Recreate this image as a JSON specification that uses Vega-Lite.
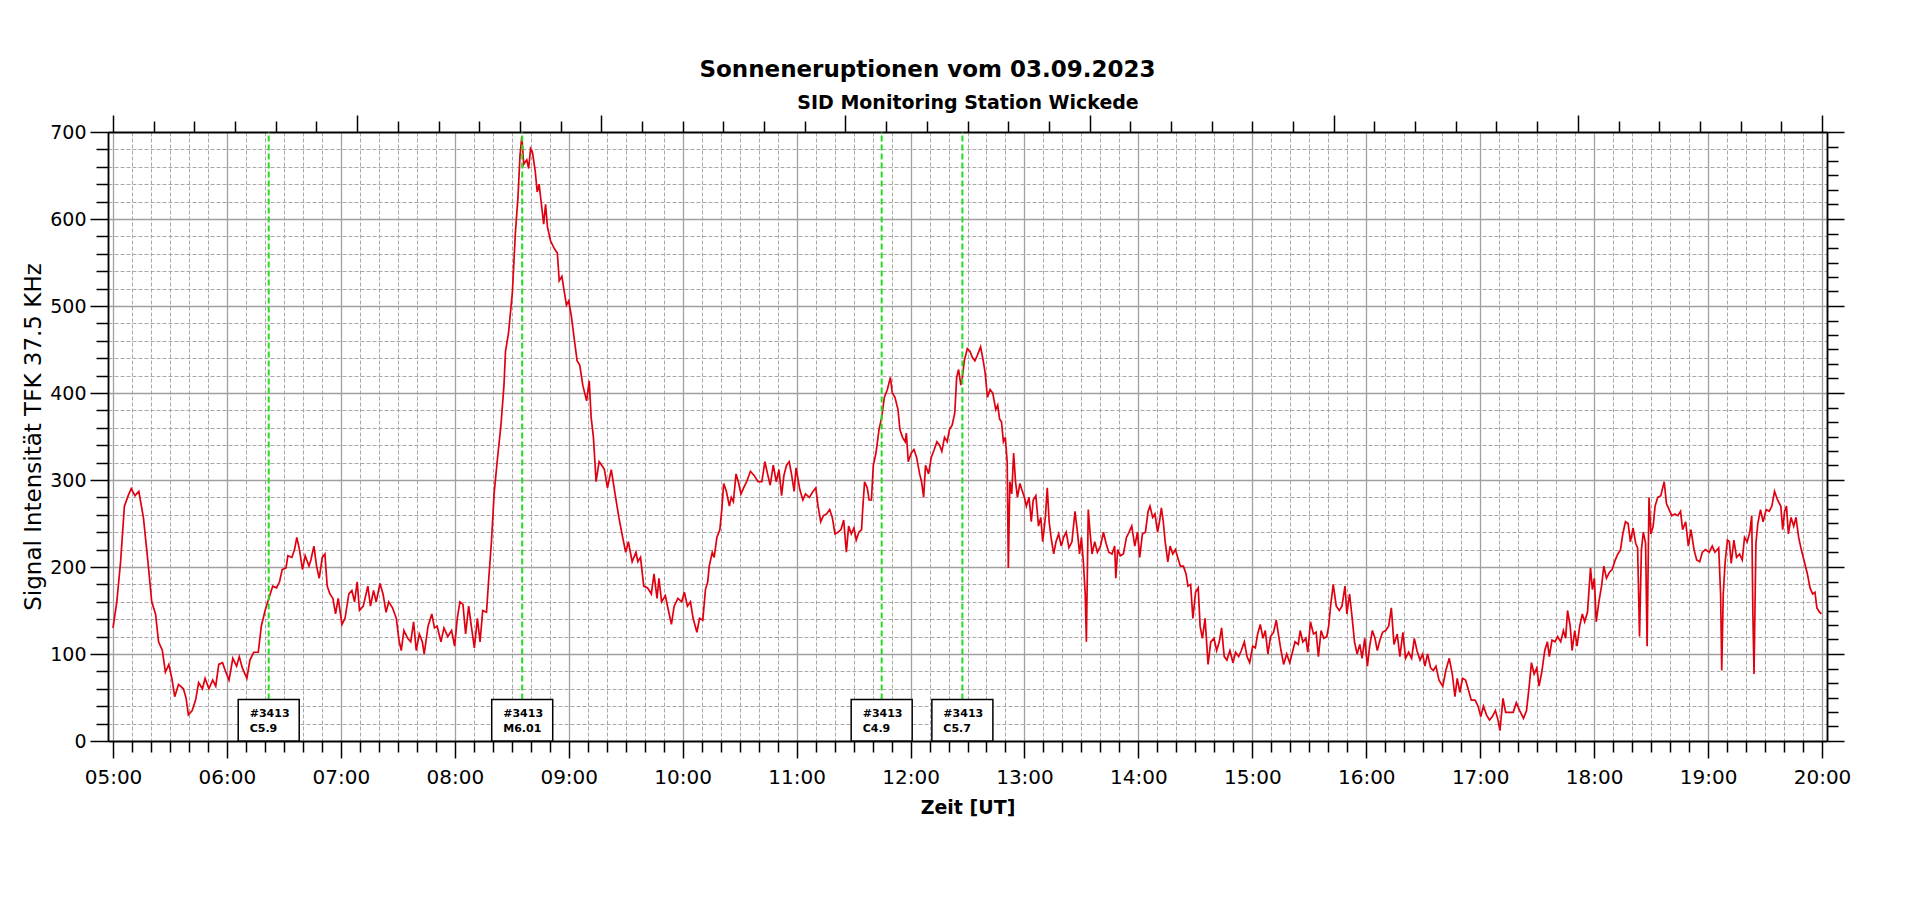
{
  "$schema": "https://vega.github.io/schema/vega-lite/v6.json",
  "width": 1719,
  "height": 609,
  "autosize": {"type": "none"},
  "padding": {"left": 108, "top": 132, "right": 93, "bottom": 163},
  "background": "#ffffff",
  "title": {"text": "Sonneneruptionen vom 03.09.2023", "font": "DejaVu Sans", "fontSize": 23, "fontWeight": "bold", "color": "#000000", "anchor": "middle", "dx": -40, "offset": 11},
  "config": {
    "view": {"stroke": null},
    "axis": {"labelFont": "DejaVu Sans", "titleFont": "DejaVu Sans", "labelColor": "#000000", "titleColor": "#000000", "domainColor": "#000000", "tickColor": "#000000", "tickWidth": 1.5, "domainWidth": 1.5, "labelFlush": false, "labelOverlap": false}
  },
  "datasets": {
    "signal": [
{"zeit":300,"signal":130},{"zeit":302,"signal":160},{"zeit":304,"signal":206},{"zeit":306,"signal":270},{"zeit":308,"signal":282},{"zeit":309.6,"signal":290},{"zeit":311.6,"signal":282},{"zeit":313.6,"signal":287},{"zeit":316,"signal":257},{"zeit":318.4,"signal":206},{"zeit":320.4,"signal":160},{"zeit":322.4,"signal":146},{"zeit":324,"signal":114},{"zeit":326,"signal":104},{"zeit":327.6,"signal":79},{"zeit":329.4,"signal":88},{"zeit":331,"signal":72},{"zeit":332.5,"signal":51},{"zeit":334.5,"signal":65},{"zeit":337.1,"signal":60},{"zeit":338.5,"signal":49},{"zeit":339.7,"signal":30},{"zeit":341.7,"signal":35},{"zeit":343.5,"signal":47},{"zeit":345.1,"signal":67},{"zeit":347.1,"signal":60},{"zeit":348.5,"signal":72},{"zeit":350.5,"signal":60},{"zeit":352.5,"signal":70},{"zeit":354.1,"signal":63},{"zeit":355.7,"signal":88},{"zeit":357.7,"signal":90},{"zeit":359.1,"signal":81},{"zeit":361.1,"signal":70},{"zeit":363.1,"signal":95},{"zeit":365.1,"signal":86},{"zeit":366.5,"signal":97},{"zeit":368.1,"signal":84},{"zeit":370.5,"signal":72},{"zeit":372.1,"signal":93},{"zeit":374.1,"signal":102},{"zeit":376.5,"signal":102},{"zeit":378.1,"signal":132},{"zeit":380.1,"signal":150},{"zeit":382.1,"signal":164},{"zeit":384.1,"signal":178},{"zeit":386.1,"signal":176},{"zeit":387.7,"signal":183},{"zeit":389.1,"signal":197},{"zeit":391.1,"signal":199},{"zeit":392.1,"signal":213},{"zeit":394.2,"signal":211},{"zeit":395.6,"signal":220},{"zeit":396.8,"signal":234},{"zeit":398.2,"signal":220},{"zeit":399.8,"signal":197},{"zeit":401.2,"signal":213},{"zeit":403.2,"signal":201},{"zeit":404.2,"signal":208},{"zeit":405.8,"signal":224},{"zeit":407.2,"signal":201},{"zeit":408.6,"signal":187},{"zeit":410.2,"signal":211},{"zeit":411.6,"signal":215},{"zeit":412.8,"signal":178},{"zeit":414.2,"signal":169},{"zeit":415.8,"signal":164},{"zeit":417.2,"signal":146},{"zeit":418.6,"signal":164},{"zeit":420.6,"signal":134},{"zeit":422.2,"signal":141},{"zeit":424.2,"signal":169},{"zeit":425.8,"signal":173},{"zeit":427.2,"signal":160},{"zeit":428.6,"signal":183},{"zeit":429.8,"signal":150},{"zeit":431.8,"signal":155},{"zeit":434.2,"signal":178},{"zeit":435.6,"signal":155},{"zeit":437.2,"signal":173},{"zeit":438.6,"signal":160},{"zeit":440.6,"signal":181},{"zeit":442.2,"signal":169},{"zeit":443.8,"signal":148},{"zeit":445.2,"signal":160},{"zeit":447.2,"signal":153},{"zeit":449.2,"signal":141},{"zeit":450.6,"signal":116},{"zeit":451.8,"signal":104},{"zeit":453.2,"signal":127},{"zeit":455.2,"signal":118},{"zeit":456.8,"signal":114},{"zeit":458.3,"signal":137},{"zeit":459.7,"signal":104},{"zeit":461.3,"signal":123},{"zeit":462.9,"signal":114},{"zeit":463.9,"signal":100},{"zeit":465.9,"signal":132},{"zeit":467.9,"signal":146},{"zeit":469.3,"signal":130},{"zeit":470.7,"signal":132},{"zeit":472.7,"signal":114},{"zeit":474.3,"signal":130},{"zeit":476.3,"signal":120},{"zeit":478.3,"signal":127},{"zeit":479.9,"signal":109},{"zeit":481.3,"signal":141},{"zeit":482.7,"signal":160},{"zeit":484.3,"signal":157},{"zeit":485.7,"signal":123},{"zeit":487.3,"signal":155},{"zeit":488.7,"signal":132},{"zeit":490.3,"signal":107},{"zeit":491.9,"signal":141},{"zeit":493.3,"signal":114},{"zeit":494.7,"signal":150},{"zeit":496.7,"signal":148},{"zeit":497.9,"signal":187},{"zeit":499.3,"signal":229},{"zeit":500.7,"signal":284},{"zeit":502.3,"signal":321},{"zeit":504.3,"signal":363},{"zeit":505.9,"signal":409},{"zeit":506.7,"signal":448},{"zeit":508.3,"signal":469},{"zeit":510.3,"signal":515},{"zeit":511.9,"signal":584},{"zeit":513.3,"signal":626},{"zeit":514.3,"signal":672},{"zeit":515.3,"signal":695},{"zeit":516.3,"signal":663},{"zeit":517.9,"signal":668},{"zeit":518.9,"signal":658},{"zeit":519.9,"signal":681},{"zeit":520.9,"signal":677},{"zeit":522.4,"signal":654},{"zeit":523.4,"signal":631},{"zeit":524.4,"signal":640},{"zeit":525.4,"signal":621},{"zeit":526.8,"signal":594},{"zeit":527.8,"signal":617},{"zeit":528.8,"signal":591},{"zeit":530.4,"signal":575},{"zeit":532.4,"signal":566},{"zeit":534,"signal":561},{"zeit":535,"signal":529},{"zeit":536.4,"signal":534},{"zeit":537.4,"signal":520},{"zeit":538.8,"signal":501},{"zeit":540,"signal":506},{"zeit":541.4,"signal":488},{"zeit":542.8,"signal":464},{"zeit":544.4,"signal":437},{"zeit":545.8,"signal":432},{"zeit":547.4,"signal":409},{"zeit":549.4,"signal":391},{"zeit":550.8,"signal":414},{"zeit":551.8,"signal":372},{"zeit":553,"signal":349},{"zeit":554.4,"signal":298},{"zeit":556,"signal":321},{"zeit":557.4,"signal":317},{"zeit":558.8,"signal":312},{"zeit":560.4,"signal":291},{"zeit":562.4,"signal":312},{"zeit":564.4,"signal":284},{"zeit":566.4,"signal":257},{"zeit":568.4,"signal":234},{"zeit":570,"signal":217},{"zeit":571.4,"signal":229},{"zeit":573.4,"signal":206},{"zeit":575.4,"signal":217},{"zeit":576.4,"signal":206},{"zeit":577.8,"signal":211},{"zeit":579.5,"signal":178},{"zeit":581.5,"signal":176},{"zeit":583.5,"signal":169},{"zeit":584.9,"signal":192},{"zeit":586.5,"signal":164},{"zeit":587.5,"signal":187},{"zeit":588.9,"signal":160},{"zeit":590.9,"signal":167},{"zeit":592.5,"signal":150},{"zeit":594.1,"signal":134},{"zeit":595.5,"signal":155},{"zeit":597.5,"signal":164},{"zeit":599.5,"signal":160},{"zeit":600.9,"signal":171},{"zeit":602.5,"signal":155},{"zeit":604.1,"signal":160},{"zeit":605.5,"signal":141},{"zeit":607.5,"signal":125},{"zeit":608.9,"signal":141},
{"zeit":610.6,"signal":139},{"zeit":612,"signal":174},{"zeit":613.2,"signal":183},{"zeit":614,"signal":201},{"zeit":615.6,"signal":217},{"zeit":616.6,"signal":211},{"zeit":618,"signal":234},{"zeit":619.6,"signal":243},{"zeit":620.6,"signal":266},{"zeit":621.6,"signal":296},{"zeit":623,"signal":287},{"zeit":624.6,"signal":270},{"zeit":625.6,"signal":280},{"zeit":626.7,"signal":275},{"zeit":628.1,"signal":307},{"zeit":629.3,"signal":298},{"zeit":630.7,"signal":284},{"zeit":632.1,"signal":291},{"zeit":633.7,"signal":298},{"zeit":635.7,"signal":310},{"zeit":637.7,"signal":305},{"zeit":639.7,"signal":298},{"zeit":641.7,"signal":298},{"zeit":643.3,"signal":321},{"zeit":644.7,"signal":307},{"zeit":646.1,"signal":294},{"zeit":647.7,"signal":317},{"zeit":649.3,"signal":298},{"zeit":650.7,"signal":312},{"zeit":652.1,"signal":282},{"zeit":653.3,"signal":305},{"zeit":654.7,"signal":317},{"zeit":656.1,"signal":321},{"zeit":657.3,"signal":307},{"zeit":658.7,"signal":287},{"zeit":659.7,"signal":314},{"zeit":661.7,"signal":289},{"zeit":663.3,"signal":277},{"zeit":664.7,"signal":284},{"zeit":666.7,"signal":280},{"zeit":668.7,"signal":287},{"zeit":670.1,"signal":291},{"zeit":671.3,"signal":270},{"zeit":672.7,"signal":252},{"zeit":674.1,"signal":259},{"zeit":675.8,"signal":261},{"zeit":677.4,"signal":266},{"zeit":678.8,"signal":257},{"zeit":680.2,"signal":238},{"zeit":681.8,"signal":240},{"zeit":683.4,"signal":243},{"zeit":684.8,"signal":254},{"zeit":686.2,"signal":217},{"zeit":687.4,"signal":247},{"zeit":688.8,"signal":238},{"zeit":690.2,"signal":245},{"zeit":691.4,"signal":231},{"zeit":692.8,"signal":240},{"zeit":694.2,"signal":243},{"zeit":694.8,"signal":266},{"zeit":695.8,"signal":298},{"zeit":697.2,"signal":291},{"zeit":698.2,"signal":277},{"zeit":699.4,"signal":277},{"zeit":700.4,"signal":317},{"zeit":701.8,"signal":331},{"zeit":703.4,"signal":358},{"zeit":704.8,"signal":372},{"zeit":706.2,"signal":395},{"zeit":707.8,"signal":404},{"zeit":709.4,"signal":418},{"zeit":710.4,"signal":400},{"zeit":711.8,"signal":395},{"zeit":713.4,"signal":381},{"zeit":714.4,"signal":358},{"zeit":715.8,"signal":349},{"zeit":717.2,"signal":344},{"zeit":717.8,"signal":354},{"zeit":718.8,"signal":321},{"zeit":720.4,"signal":331},{"zeit":721.8,"signal":335},{"zeit":723.2,"signal":326},{"zeit":724.8,"signal":307},{"zeit":725.8,"signal":298},{"zeit":726.9,"signal":280},{"zeit":727.9,"signal":317},{"zeit":729.5,"signal":307},{"zeit":730.9,"signal":326},{"zeit":732.5,"signal":335},{"zeit":733.9,"signal":344},{"zeit":735.3,"signal":340},{"zeit":736.5,"signal":333},{"zeit":737.9,"signal":349},{"zeit":739.3,"signal":344},{"zeit":740.5,"signal":358},{"zeit":741.9,"signal":363},{"zeit":743.3,"signal":377},{"zeit":744.3,"signal":418},{"zeit":745.3,"signal":427},{"zeit":746.5,"signal":409},{"zeit":747.3,"signal":418},{"zeit":748.3,"signal":437},{"zeit":749.9,"signal":451},{"zeit":751.3,"signal":448},{"zeit":752.5,"signal":441},{"zeit":753.9,"signal":437},{"zeit":755.3,"signal":444},{"zeit":756.9,"signal":453},{"zeit":758.3,"signal":437},{"zeit":759.3,"signal":423},{"zeit":760.5,"signal":395},{"zeit":761.9,"signal":404},{"zeit":763.3,"signal":400},{"zeit":764.9,"signal":381},{"zeit":765.9,"signal":386},{"zeit":766.9,"signal":370},{"zeit":767.9,"signal":367},{"zeit":768.9,"signal":344},{"zeit":769.9,"signal":349},{"zeit":770.9,"signal":321},{"zeit":771.5,"signal":199},{"zeit":772.3,"signal":298},{"zeit":773.3,"signal":284},{"zeit":774.3,"signal":331},{"zeit":775.3,"signal":298},{"zeit":776.3,"signal":280},{"zeit":777.6,"signal":296},{"zeit":778.6,"signal":289},{"zeit":780,"signal":280},{"zeit":781,"signal":270},{"zeit":782.4,"signal":280},{"zeit":783.6,"signal":252},{"zeit":784.6,"signal":277},{"zeit":786,"signal":282},{"zeit":787.4,"signal":247},{"zeit":788.6,"signal":257},{"zeit":789.6,"signal":229},{"zeit":791,"signal":257},{"zeit":792,"signal":291},{"zeit":793,"signal":252},{"zeit":794,"signal":234},{"zeit":795.4,"signal":215},{"zeit":796.6,"signal":229},{"zeit":798,"signal":238},{"zeit":799.4,"signal":224},{"zeit":800.6,"signal":234},{"zeit":802,"signal":240},{"zeit":803.4,"signal":222},{"zeit":805,"signal":229},{"zeit":806.6,"signal":264},{"zeit":808,"signal":238},{"zeit":809,"signal":215},{"zeit":810,"signal":234},{"zeit":811,"signal":206},{"zeit":812,"signal":169},{"zeit":812.6,"signal":114},{"zeit":813.6,"signal":266},{"zeit":814.6,"signal":238},{"zeit":815.6,"signal":215},{"zeit":817,"signal":229},{"zeit":818.4,"signal":217},{"zeit":820,"signal":224},{"zeit":821.6,"signal":240},{"zeit":823,"signal":227},{"zeit":824.4,"signal":217},{"zeit":826.1,"signal":215},{"zeit":827.5,"signal":224},{"zeit":828.1,"signal":187},{"zeit":829.1,"signal":220},{"zeit":830.5,"signal":213},{"zeit":832.1,"signal":215},{"zeit":833.7,"signal":234},{"zeit":835.1,"signal":240},{"zeit":836.5,"signal":247},{"zeit":838.1,"signal":224},{"zeit":839.5,"signal":240},{"zeit":840.7,"signal":211},{"zeit":842.1,"signal":238},{"zeit":843.7,"signal":240},{"zeit":845.1,"signal":264},{"zeit":846.1,"signal":270},{"zeit":847.5,"signal":257},{"zeit":848.7,"signal":261},{"zeit":850.1,"signal":240},{"zeit":851.1,"signal":252},{"zeit":852.1,"signal":268},{"zeit":853.1,"signal":252},{"zeit":854.1,"signal":229},{"zeit":855.5,"signal":206},{"zeit":856.7,"signal":224},{"zeit":858.1,"signal":215},{"zeit":859.5,"signal":220},{"zeit":860.7,"signal":211},{"zeit":862.1,"signal":201},{"zeit":863.7,"signal":201},{"zeit":865.1,"signal":192},{"zeit":866.1,"signal":178},{"zeit":867.5,"signal":180},{"zeit":868.7,"signal":141},{"zeit":870.1,"signal":171},{"zeit":871.5,"signal":176},{"zeit":872.5,"signal":132},{"zeit":873.7,"signal":118},{"zeit":875.1,"signal":141},{"zeit":876.7,"signal":88},{"zeit":878.1,"signal":114},{"zeit":879.8,"signal":118},{"zeit":881.2,"signal":104},{"zeit":882.6,"signal":114},{"zeit":883.8,"signal":130},{"zeit":885.2,"signal":97},{"zeit":886.6,"signal":93},{"zeit":888.2,"signal":104},{"zeit":889.8,"signal":90},{"zeit":891.2,"signal":102},{"zeit":892.8,"signal":97},{"zeit":894.2,"signal":104},{"zeit":895.8,"signal":114},{"zeit":897.2,"signal":97},{"zeit":898.6,"signal":90},{"zeit":900.2,"signal":109},{"zeit":901.6,"signal":107},{"zeit":902.8,"signal":123},{"zeit":904.2,"signal":134},{"zeit":905.6,"signal":118},{"zeit":906.8,"signal":127},{"zeit":908.2,"signal":100},{"zeit":909.6,"signal":120},{"zeit":911.2,"signal":125},{"zeit":912.6,"signal":139},
{"zeit":913.7,"signal":123},{"zeit":915.1,"signal":104},{"zeit":916.5,"signal":88},{"zeit":918.1,"signal":100},{"zeit":919.7,"signal":90},{"zeit":921.1,"signal":102},{"zeit":922.5,"signal":114},{"zeit":924.2,"signal":111},{"zeit":925.2,"signal":127},{"zeit":926.6,"signal":114},{"zeit":928.2,"signal":118},{"zeit":929.2,"signal":102},{"zeit":930.6,"signal":137},{"zeit":932.2,"signal":123},{"zeit":933.6,"signal":125},{"zeit":934.8,"signal":97},{"zeit":936.2,"signal":127},{"zeit":937.6,"signal":118},{"zeit":939.2,"signal":120},{"zeit":940.2,"signal":132},{"zeit":941.2,"signal":155},{"zeit":942.6,"signal":180},{"zeit":944.2,"signal":155},{"zeit":945.8,"signal":150},{"zeit":947.2,"signal":155},{"zeit":948.8,"signal":178},{"zeit":949.8,"signal":146},{"zeit":951.2,"signal":169},{"zeit":952.6,"signal":141},{"zeit":953.8,"signal":114},{"zeit":955.2,"signal":100},{"zeit":956.6,"signal":111},{"zeit":957.8,"signal":95},{"zeit":959.2,"signal":118},{"zeit":960.6,"signal":86},{"zeit":961.8,"signal":109},{"zeit":963.2,"signal":127},{"zeit":964.6,"signal":118},{"zeit":965.8,"signal":104},{"zeit":967.2,"signal":116},{"zeit":968.6,"signal":125},{"zeit":970.2,"signal":127},{"zeit":971.8,"signal":132},{"zeit":973.2,"signal":153},{"zeit":974.6,"signal":111},{"zeit":976.3,"signal":123},{"zeit":977.7,"signal":97},{"zeit":979.3,"signal":125},{"zeit":980.7,"signal":95},{"zeit":982.3,"signal":102},{"zeit":983.9,"signal":95},{"zeit":985.3,"signal":118},{"zeit":986.7,"signal":104},{"zeit":988.3,"signal":93},{"zeit":989.7,"signal":100},{"zeit":990.9,"signal":86},{"zeit":992.3,"signal":100},{"zeit":993.9,"signal":84},{"zeit":995.3,"signal":81},{"zeit":996.7,"signal":86},{"zeit":998.3,"signal":70},{"zeit":1000.3,"signal":63},{"zeit":1001.9,"signal":81},{"zeit":1003.7,"signal":95},{"zeit":1005.3,"signal":77},{"zeit":1006.7,"signal":51},{"zeit":1007.9,"signal":72},{"zeit":1009.3,"signal":56},{"zeit":1010.7,"signal":72},{"zeit":1012.3,"signal":70},{"zeit":1013.9,"signal":58},{"zeit":1015.3,"signal":47},{"zeit":1017.3,"signal":47},{"zeit":1018.9,"signal":40},{"zeit":1020.3,"signal":28},{"zeit":1021.7,"signal":40},{"zeit":1023.3,"signal":30},{"zeit":1024.9,"signal":24},{"zeit":1026.4,"signal":28},{"zeit":1028,"signal":35},{"zeit":1029.4,"signal":24},{"zeit":1030.4,"signal":12},{"zeit":1032,"signal":49},{"zeit":1033.4,"signal":33},{"zeit":1035.4,"signal":33},{"zeit":1037.4,"signal":33},{"zeit":1039,"signal":44},{"zeit":1040.8,"signal":35},{"zeit":1042.8,"signal":26},{"zeit":1044.4,"signal":35},{"zeit":1045.8,"signal":63},{"zeit":1047,"signal":90},{"zeit":1048.4,"signal":77},{"zeit":1049.8,"signal":84},{"zeit":1051,"signal":63},{"zeit":1052.4,"signal":79},{"zeit":1054,"signal":104},{"zeit":1055.4,"signal":114},{"zeit":1056.4,"signal":97},{"zeit":1057.8,"signal":116},{"zeit":1059.4,"signal":114},{"zeit":1060.8,"signal":120},{"zeit":1062.4,"signal":114},{"zeit":1063.8,"signal":127},{"zeit":1065,"signal":118},{"zeit":1066,"signal":150},{"zeit":1067.4,"signal":132},{"zeit":1068.4,"signal":104},{"zeit":1069.8,"signal":127},{"zeit":1071,"signal":109},{"zeit":1072.4,"signal":132},{"zeit":1073.8,"signal":146},{"zeit":1075,"signal":137},{"zeit":1076.5,"signal":148},{"zeit":1078.1,"signal":199},{"zeit":1079.1,"signal":174},{"zeit":1080.1,"signal":187},{"zeit":1081.1,"signal":137},{"zeit":1082.5,"signal":160},{"zeit":1083.9,"signal":178},{"zeit":1085.1,"signal":201},{"zeit":1086.5,"signal":187},{"zeit":1088.1,"signal":194},{"zeit":1089.5,"signal":197},{"zeit":1091.1,"signal":208},{"zeit":1092.5,"signal":215},{"zeit":1093.9,"signal":220},{"zeit":1095.1,"signal":238},{"zeit":1096.5,"signal":252},{"zeit":1097.9,"signal":250},{"zeit":1099.1,"signal":229},{"zeit":1100.5,"signal":245},{"zeit":1101.9,"signal":227},{"zeit":1102.9,"signal":222},{"zeit":1103.9,"signal":120},{"zeit":1104.9,"signal":220},{"zeit":1105.9,"signal":240},{"zeit":1107.1,"signal":227},{"zeit":1107.9,"signal":109},{"zeit":1108.9,"signal":280},{"zeit":1109.9,"signal":238},{"zeit":1111.1,"signal":247},{"zeit":1112.1,"signal":270},{"zeit":1113.5,"signal":280},{"zeit":1115.1,"signal":282},{"zeit":1116.9,"signal":298},{"zeit":1118.1,"signal":273},{"zeit":1119.5,"signal":266},{"zeit":1120.9,"signal":259},{"zeit":1122.5,"signal":261},{"zeit":1124.1,"signal":259},{"zeit":1125.5,"signal":264},{"zeit":1126.6,"signal":243},{"zeit":1128.2,"signal":252},{"zeit":1129.6,"signal":224},{"zeit":1131,"signal":243},{"zeit":1132.6,"signal":220},{"zeit":1134,"signal":208},{"zeit":1135.6,"signal":206},{"zeit":1137,"signal":217},{"zeit":1138.6,"signal":220},{"zeit":1140.6,"signal":217},{"zeit":1142.2,"signal":224},{"zeit":1143.6,"signal":217},{"zeit":1145.6,"signal":222},{"zeit":1146.6,"signal":169},{"zeit":1147.2,"signal":81},{"zeit":1148,"signal":169},{"zeit":1149,"signal":206},{"zeit":1150.2,"signal":231},{"zeit":1151.2,"signal":229},{"zeit":1152.2,"signal":204},{"zeit":1153.6,"signal":231},{"zeit":1155,"signal":211},{"zeit":1156.6,"signal":215},{"zeit":1158,"signal":208},{"zeit":1159.2,"signal":234},{"zeit":1160.6,"signal":229},{"zeit":1162,"signal":240},{"zeit":1163,"signal":259},{"zeit":1163.6,"signal":146},{"zeit":1164.2,"signal":77},{"zeit":1165.2,"signal":227},{"zeit":1166.2,"signal":250},{"zeit":1167.6,"signal":266},{"zeit":1169,"signal":252},{"zeit":1170.6,"signal":266},{"zeit":1172.2,"signal":264},{"zeit":1173.6,"signal":270},{"zeit":1175,"signal":287},{"zeit":1176.6,"signal":277},{"zeit":1178.3,"signal":270},{"zeit":1179.3,"signal":243},{"zeit":1180.3,"signal":264},{"zeit":1181.3,"signal":270},{"zeit":1182.3,"signal":238},{"zeit":1183.7,"signal":257},{"zeit":1185.1,"signal":247},{"zeit":1186.3,"signal":257},{"zeit":1187.7,"signal":234},{"zeit":1189.1,"signal":220},{"zeit":1190.7,"signal":206},{"zeit":1192.3,"signal":192},{"zeit":1193.7,"signal":176},{"zeit":1195.1,"signal":169},{"zeit":1196.3,"signal":171},{"zeit":1197.3,"signal":153},{"zeit":1198.7,"signal":148},{"zeit":1199.7,"signal":146}
    ],
    "flares": [
      {"zeit": 382, "region": "#3413", "klasse": "C5.9"},
      {"zeit": 515.5, "region": "#3413", "klasse": "M6.01"},
      {"zeit": 704.8, "region": "#3413", "klasse": "C4.9"},
      {"zeit": 747.3, "region": "#3413", "klasse": "C5.7"}
    ]
  },
  "resolve": {"axis": {"x": "independent", "y": "independent"}},
  "layer": [
    {
      "data": {"name": "signal"},
      "mark": {"type": "line", "color": "#e00010", "strokeWidth": 1.7},
      "encoding": {
        "x": {"field": "zeit", "type": "quantitative", "scale": {"domain": [300, 1200], "nice": false, "zero": false},
          "axis": {"orient": "bottom", "values": [300,360,420,480,540,600,660,720,780,840,900,960,1020,1080,1140,1200], "labelExpr": "format(floor(datum.value/60),'02d') + ':00'", "labelFontSize": 20, "labelBaseline": "alphabetic", "labelPadding": 25, "tickSize": 17, "grid": true, "gridColor": "#a0a0a0", "gridWidth": 1.3, "title": "Zeit [UT]", "titleFontSize": 19, "titleFontWeight": "bold", "titleBaseline": "alphabetic", "titleY": 72}},
        "y": {"field": "signal", "type": "quantitative", "scale": {"domain": [0, 700], "nice": false},
          "axis": {"orient": "left", "values": [0,100,200,300,400,500,600,700], "labelFontSize": 19, "labelPadding": 4, "labelBaseline": "middle", "tickSize": 18, "grid": true, "gridColor": "#a0a0a0", "gridWidth": 1.3, "title": "Signal Intensität TFK 37.5 KHz", "titleFontSize": 23, "titleFontWeight": "normal", "titleX": -75, "titleY": 304.5, "titleAngle": -90, "titleBaseline": "middle", "titleAlign": "center"}}
      }
    },
    {
      "data": {"name": "flares"},
      "mark": {"type": "rule", "color": "#22dd22", "strokeWidth": 2, "strokeDash": [6, 3]},
      "encoding": {
        "x": {"field": "zeit", "type": "quantitative",
          "axis": {"orient": "bottom", "values": [310,320,330,340,350,370,380,390,400,410,430,440,450,460,470,490,500,510,520,530,550,560,570,580,590,610,620,630,640,650,670,680,690,700,710,730,740,750,760,770,790,800,810,820,830,850,860,870,880,890,910,920,930,940,950,970,980,990,1000,1010,1030,1040,1050,1060,1070,1090,1100,1110,1120,1130,1150,1160,1170,1180,1190], "labels": false, "tickSize": 11, "grid": true, "gridColor": "#a8a8a8", "gridDash": [4, 2], "gridWidth": 1, "title": null}},
        "y": {"datum": 47.7, "type": "quantitative",
          "axis": {"orient": "left", "values": [20,40,60,80,120,140,160,180,220,240,260,280,320,340,360,380,420,440,460,480,520,540,560,580,620,640,660,680], "labels": false, "tickSize": 12, "grid": true, "gridColor": "#a8a8a8", "gridDash": [4, 2], "gridWidth": 1, "title": null}},
        "y2": {"datum": 700}
      }
    },
    {
      "data": {"name": "flares"},
      "mark": {"type": "bar", "size": 61, "fill": "#ffffff", "stroke": "#000000", "strokeWidth": 1.5},
      "encoding": {
        "x": {"field": "zeit", "type": "quantitative",
          "axis": {"orient": "top", "values": [321.429,342.857,364.286,385.714,407.143,450,471.429,492.857,514.286,535.714,578.571,600,621.429,642.857,664.286,707.143,728.571,750,771.429,792.857,835.714,857.143,878.571,900,921.429,964.286,985.714,1007.143,1028.571,1050,1092.857,1114.286,1135.714,1157.143,1178.571], "labels": false, "tickSize": 11, "grid": false, "title": "SID Monitoring Station Wickede", "titleFontSize": 19, "titleFontWeight": "bold", "titleBaseline": "alphabetic", "titleY": -24}},
        "y": {"datum": 47.7, "type": "quantitative",
          "axis": {"orient": "right", "values": [16.667,33.333,50,66.667,83.333,116.667,133.333,150,166.667,183.333,216.667,233.333,250,266.667,283.333,316.667,333.333,350,366.667,383.333,416.667,433.333,450,466.667,483.333,516.667,533.333,550,566.667,583.333,616.667,633.333,650,666.667,683.333], "labels": false, "tickSize": 11, "grid": false, "title": null}},
        "y2": {"datum": 0}
      }
    },
    {
      "data": {"name": "flares"},
      "mark": {"type": "text", "align": "left", "baseline": "middle", "dx": -19, "font": "DejaVu Sans", "fontSize": 11, "fontWeight": "bold", "color": "#000000"},
      "encoding": {
        "x": {"field": "zeit", "type": "quantitative",
          "axis": {"orient": "top", "values": [300,428.571,557.143,685.714,814.286,942.857,1071.429,1200], "labels": false, "tickSize": 17, "grid": false, "title": null}},
        "y": {"datum": 31.4, "type": "quantitative",
          "axis": {"orient": "right", "values": [0,100,200,300,400,500,600,700], "labels": false, "tickSize": 17, "grid": false, "title": null}},
        "text": {"field": "region"}
      }
    },
    {
      "data": {"name": "flares"},
      "mark": {"type": "text", "align": "left", "baseline": "middle", "dx": -19, "font": "DejaVu Sans", "fontSize": 11, "fontWeight": "bold", "color": "#000000"},
      "encoding": {
        "x": {"field": "zeit", "type": "quantitative", "axis": null},
        "y": {"datum": 14.1, "type": "quantitative", "axis": null},
        "text": {"field": "klasse"}
      }
    }
  ]
}
